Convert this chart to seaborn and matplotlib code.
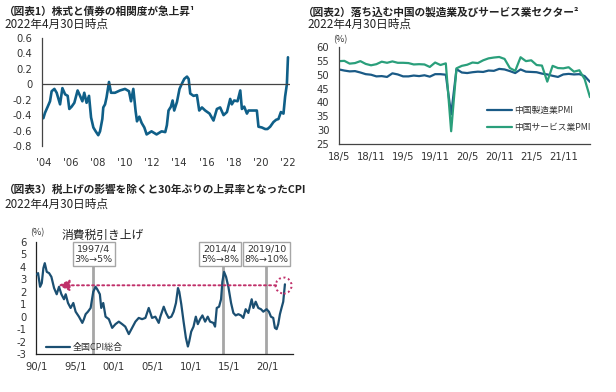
import matplotlib
matplotlib.use("Agg")
import matplotlib.pyplot as plt
import seaborn as sns
from matplotlib.patches import Ellipse

# chart 1: stock/bond correlation
corr_year = [2004.0, 2004.12, 2004.32, 2004.49, 2004.61, 2004.81, 2004.98, 2005.23, 2005.40, 2005.60,
             2005.79, 2005.91, 2006.08, 2006.28, 2006.52, 2006.70, 2006.87, 2007.01, 2007.18, 2007.36,
             2007.51, 2007.68, 2007.85, 2008.04, 2008.17, 2008.34, 2008.41, 2008.54, 2008.65, 2008.83,
             2008.98, 2009.27, 2009.64, 2010.01, 2010.30, 2010.45, 2010.62, 2010.79, 2010.89, 2011.06,
             2011.23, 2011.43, 2011.60, 2011.96, 2012.33, 2012.70, 2012.97, 2013.09, 2013.21, 2013.39,
             2013.51, 2013.63, 2013.83, 2014.02, 2014.20, 2014.37, 2014.57, 2014.69, 2014.81, 2015.05,
             2015.30, 2015.47, 2015.67, 2015.91, 2016.23, 2016.52, 2016.77, 2017.01, 2017.26, 2017.51,
             2017.75, 2017.87, 2018.04, 2018.29, 2018.49, 2018.61, 2018.78, 2018.98, 2019.10, 2019.35,
             2019.71, 2019.83, 2020.08, 2020.32, 2020.49, 2020.69, 2020.93, 2021.13, 2021.30, 2021.48,
             2021.67, 2021.79, 2021.92, 2022.0]
corr_val = [-0.44, -0.37, -0.29, -0.22, -0.09, -0.06, -0.11, -0.26, -0.05, -0.13,
            -0.15, -0.32, -0.29, -0.24, -0.08, -0.15, -0.22, -0.11, -0.24, -0.15,
            -0.43, -0.56, -0.61, -0.66, -0.61, -0.45, -0.30, -0.26, -0.17, 0.03,
            -0.11, -0.11, -0.08, -0.06, -0.09, -0.22, -0.06, -0.35, -0.48, -0.42,
            -0.50, -0.56, -0.65, -0.61, -0.65, -0.61, -0.62, -0.53, -0.34, -0.29,
            -0.21, -0.34, -0.23, -0.06, 0.01, 0.07, 0.10, 0.07, -0.12, -0.15,
            -0.14, -0.34, -0.30, -0.34, -0.38, -0.47, -0.32, -0.30, -0.40, -0.36,
            -0.19, -0.26, -0.21, -0.22, -0.08, -0.32, -0.29, -0.38, -0.34, -0.34,
            -0.34, -0.55, -0.56, -0.58, -0.58, -0.55, -0.49, -0.46, -0.45, -0.36,
            -0.38, -0.16, 0.0, 0.35]
corr_ticks = [2004, 2006, 2008, 2010, 2012, 2014, 2016, 2018, 2020, 2022]
corr_tick_labels = ["'04", "'06", "'08", "'10", "'12", "'14", "'16", "'18", "'20", "'22"]

# chart 2: China PMI, 2018/5 - 2022/4
pmi_mfg = [51.9, 51.5, 51.2, 51.3, 50.8, 50.2, 50.0, 49.4,
           49.5, 49.2, 50.5, 50.1, 49.4, 49.4, 49.7, 49.5, 49.8, 49.3, 50.2, 50.2,
           50.0, 35.7, 52.0, 50.8, 50.6, 50.9, 51.1, 51.0, 51.5, 51.4, 52.1, 51.9,
           51.3, 50.6, 51.9, 51.1, 51.0, 50.9, 50.4, 50.1, 49.6, 49.2, 50.1, 50.3,
           50.1, 50.2, 49.5, 47.4]
pmi_srv = [54.9, 55.0, 54.0, 54.2, 54.9, 53.9, 53.4, 53.8,
           54.7, 54.3, 54.8, 54.3, 54.3, 54.2, 53.7, 53.8, 53.7, 52.8, 54.4, 53.5,
           54.1, 29.6, 52.3, 53.2, 53.6, 54.4, 54.2, 55.2, 55.9, 56.2, 56.4, 55.7,
           52.4, 51.4, 56.3, 54.9, 55.2, 53.5, 53.3, 47.5, 53.2, 52.4, 52.3, 52.7,
           51.1, 51.6, 48.4, 41.9]
pmi_tick_labels = ["18/5", "18/11", "19/5", "19/11", "20/5", "20/11", "21/5", "21/11"]

# chart 3: Japan CPI (y/y %)
cpi_year = [1990.0, 1990.17, 1990.43, 1990.65, 1990.86, 1991.04, 1991.30, 1991.60, 1991.90, 1992.25,
            1992.59, 1992.89, 1993.20, 1993.54, 1993.76, 1994.06, 1994.40, 1994.75, 1995.05, 1995.48,
            1995.92, 1996.13, 1996.35, 1996.65, 1997.0, 1997.34, 1997.64, 1997.86, 1998.20, 1998.38,
            1998.64, 1998.94, 1999.37, 1999.80, 2000.23, 2000.66, 2001.10, 2001.50, 2001.96, 2002.39,
            2002.82, 2003.25, 2003.69, 2004.12, 2004.55, 2004.98, 2005.41, 2005.85, 2006.06, 2006.50,
            2006.80, 2007.14, 2007.49, 2007.79, 2008.09, 2008.35, 2008.52, 2008.78, 2009.08, 2009.38,
            2009.64, 2009.81, 2010.07, 2010.37, 2010.67, 2010.93, 2011.23, 2011.53, 2011.88, 2012.22,
            2012.52, 2012.95, 2013.17, 2013.39, 2013.69, 2013.95, 2014.12, 2014.34, 2014.60, 2014.90,
            2015.25, 2015.55, 2015.85, 2016.20, 2016.54, 2016.84, 2017.15, 2017.50, 2017.93, 2018.15,
            2018.45, 2018.79, 2019.14, 2019.44, 2019.87, 2020.17, 2020.43, 2020.73, 2020.95, 2021.17,
            2021.38, 2021.60, 2021.81, 2022.03, 2022.25]
cpi_val = [3.4, 3.5, 2.4, 2.7, 3.9, 4.3, 3.6, 3.5, 3.2, 2.3,
           1.8, 2.4, 1.8, 1.4, 1.8, 1.1, 0.7, 1.1, 0.4, 0.0,
           -0.5, -0.2, 0.2, 0.4, 0.7, 2.0, 2.4, 2.2, 1.8, 0.7,
           1.1, 0.0, -0.2, -0.9, -0.6, -0.4, -0.6, -0.8, -1.4, -0.9,
           -0.4, -0.1, -0.2, -0.1, 0.7, -0.1, 0.0, -0.5, 0.0, 0.8,
           0.3, -0.1, 0.0, 0.4, 1.1, 2.3, 2.0, 1.0, -0.4, -1.7,
           -2.4, -2.0, -1.2, -0.8, 0.0, -0.6, -0.2, 0.1, -0.4, 0.0,
           -0.4, -0.5, -0.8, 0.7, 0.8, 1.4, 2.8, 3.6, 3.2, 2.4,
           1.1, 0.3, 0.1, 0.2, 0.1, -0.1, 0.6, 0.3, 1.4, 0.7,
           1.2, 0.7, 0.6, 0.4, 0.6, 0.4, 0.0, -0.1, -0.9, -1.0,
           -0.6, 0.2, 0.7, 1.2, 2.6]
cpi_ticks = [1990, 1995, 2000, 2005, 2010, 2015, 2020]
cpi_tick_labels = ["90/1", "95/1", "00/1", "05/1", "10/1", "15/1", "20/1"]
tax_years = [1997.25, 2014.25, 2019.75]
tax_label_x = [1997.38, 2013.83, 2019.86]
tax_labels = ["1997/4\n3%→5%", "2014/4\n5%→8%", "2019/10\n8%→10%"]

sns.set_theme(style="white")
plt.rcParams['font.family'] = ['Noto Sans CJK JP', 'DejaVu Sans']
plt.rcParams['axes.unicode_minus'] = False

W, H = 616, 392
fig = plt.figure(figsize=(6.16, 3.92), dpi=100)

def px_axes(l, t, r, b):
    return fig.add_axes([l / W, 1 - b / H, (r - l) / W, (b - t) / H])

def style_ticks(ax):
    for lab in ax.get_xticklabels() + ax.get_yticklabels():
        lab.set_family('DejaVu Sans')
        lab.set_fontsize(7.2)
        lab.set_color('#333333')
    ax.tick_params(length=0)
    ax.tick_params(axis='y', pad=7)
    ax.tick_params(axis='x', pad=6)

title_kw = dict(fontsize=7.7, fontweight='bold', color='#222222', va='center')
sub_kw = dict(fontsize=8.4, color='#222222', va='center')

# ---- chart 1
ax1 = px_axes(42, 38, 290, 146)
sns.lineplot(x=corr_year, y=corr_val, ax=ax1, color='#0f5f88', lw=1.9, estimator=None)
ax1.axhline(0, color='#444444', lw=0.9)
ax1.set_xlim(2003.9, 2022.15)
ax1.set_ylim(-0.8, 0.6)
ax1.set_yticks([-0.8, -0.6, -0.4, -0.2, 0, 0.2, 0.4, 0.6])
ax1.set_yticklabels(['-0.8', '-0.6', '-0.4', '-0.2', '0', '0.2', '0.4', '0.6'])
ax1.set_xticks(corr_ticks)
ax1.set_xticklabels(corr_tick_labels)
for s in ['top', 'right', 'bottom']:
    ax1.spines[s].set_visible(False)
ax1.spines['left'].set_color('#444444')
ax1.spines['left'].set_linewidth(0.9)
style_ticks(ax1)
ax1.tick_params(axis='x', pad=9)
fig.text(4 / W, 1 - 12 / H, "（図表1）株式と債券の相関度が急上昇¹", **title_kw)
fig.text(4 / W, 1 - 24.5 / H, "2022年4月30日時点", **sub_kw)

# ---- chart 2
ax2 = px_axes(339, 47, 590, 144)
months = list(range(len(pmi_mfg)))
sns.lineplot(x=months, y=pmi_mfg, ax=ax2, color='#1a5a86', lw=1.6, label='中国製造業PMI', estimator=None)
sns.lineplot(x=months, y=pmi_srv, ax=ax2, color='#2a9f7b', lw=1.6, label='中国サービス業PMI', estimator=None)
ax2.set_xlim(0, 47)
ax2.set_ylim(25, 60)
ax2.set_yticks(range(25, 61, 5))
ax2.set_xticks(range(0, 48, 6))
ax2.set_xticklabels(pmi_tick_labels)
for s in ['top', 'right']:
    ax2.spines[s].set_visible(False)
for s in ['left', 'bottom']:
    ax2.spines[s].set_color('#444444')
    ax2.spines[s].set_linewidth(0.9)
style_ticks(ax2)
leg = ax2.legend(loc='center left', bbox_to_anchor=(0.59, 0.255), frameon=False, fontsize=6.3,
                 handlelength=2.8, handletextpad=0.3, labelspacing=0.9, borderpad=0, borderaxespad=0)
for t in leg.get_texts():
    t.set_color('#333333')
fig.text(333 / W, 1 - 40 / H, "(%)", fontsize=6.5, color='#333333', va='center')
fig.text(303 / W, 1 - 12 / H, "（図表2）落ち込む中国の製造業及びサービス業セクター²", **title_kw)
fig.text(307 / W, 1 - 24.5 / H, "2022年4月30日時点", **sub_kw)

# ---- chart 3
ax3 = px_axes(36, 242, 293, 354)
ax3.vlines(tax_years, -3, 4.07, color='#a6a6a6', lw=2, zorder=1)
sns.lineplot(x=cpi_year, y=cpi_val, ax=ax3, color='#1b4f72', lw=1.6, label='全国CPI総合', estimator=None, zorder=3)
ax3.set_xlim(1989.9, 2023.3)
ax3.set_ylim(-3, 6)
ax3.set_yticks(range(-3, 7))
ax3.set_xticks(cpi_ticks)
ax3.set_xticklabels(cpi_tick_labels)
for s in ['top', 'right']:
    ax3.spines[s].set_visible(False)
for s in ['left', 'bottom']:
    ax3.spines[s].set_color('#222222')
    ax3.spines[s].set_linewidth(0.9)
style_ticks(ax3)
for xl, txt in zip(tax_label_x, tax_labels):
    ax3.text(xl, 5.03, txt, ha='center', va='center', fontsize=6.8, family='DejaVu Sans',
             color='#333333', linespacing=1.25, zorder=4,
             bbox=dict(boxstyle='square,pad=0.2', fc='white', ec='#a6a6a6', lw=1))
red = '#c0306a'
ax3.annotate('', xy=(1992.8, 2.52), xytext=(2021.1, 2.52),
             arrowprops=dict(arrowstyle='-|>,head_length=0.55,head_width=0.28', color=red,
                             lw=1.4, ls=(0, (1, 1.6)), shrinkA=0, shrinkB=0), zorder=5)
ax3.add_patch(Ellipse((2022.08, 2.5), 16 / 7.72, 16 / 12.44, fill=False, ec=red, lw=1.4,
                      ls=(0, (1, 1.4)), zorder=5, clip_on=False))
leg3 = ax3.legend(loc='lower left', bbox_to_anchor=(0.04, 0.02), frameon=False, fontsize=6.5,
                  handlelength=2.6, handletextpad=0.3, borderpad=0, borderaxespad=0)
for t in leg3.get_texts():
    t.set_color('#333333')
fig.text(30 / W, 1 - 233 / H, "(%)", fontsize=6.5, color='#333333', va='center')
fig.text(62 / W, 1 - 235 / H, "消費税引き上げ", fontsize=8.5, color='#222222', va='center')
fig.text(4 / W, 1 - 190 / H, "（図表3）税上げの影響を除くと30年ぶりの上昇率となったCPI", **title_kw)
fig.text(4 / W, 1 - 204.5 / H, "2022年4月30日時点", **sub_kw)

fig.savefig('out.png', dpi=100, facecolor='white')
